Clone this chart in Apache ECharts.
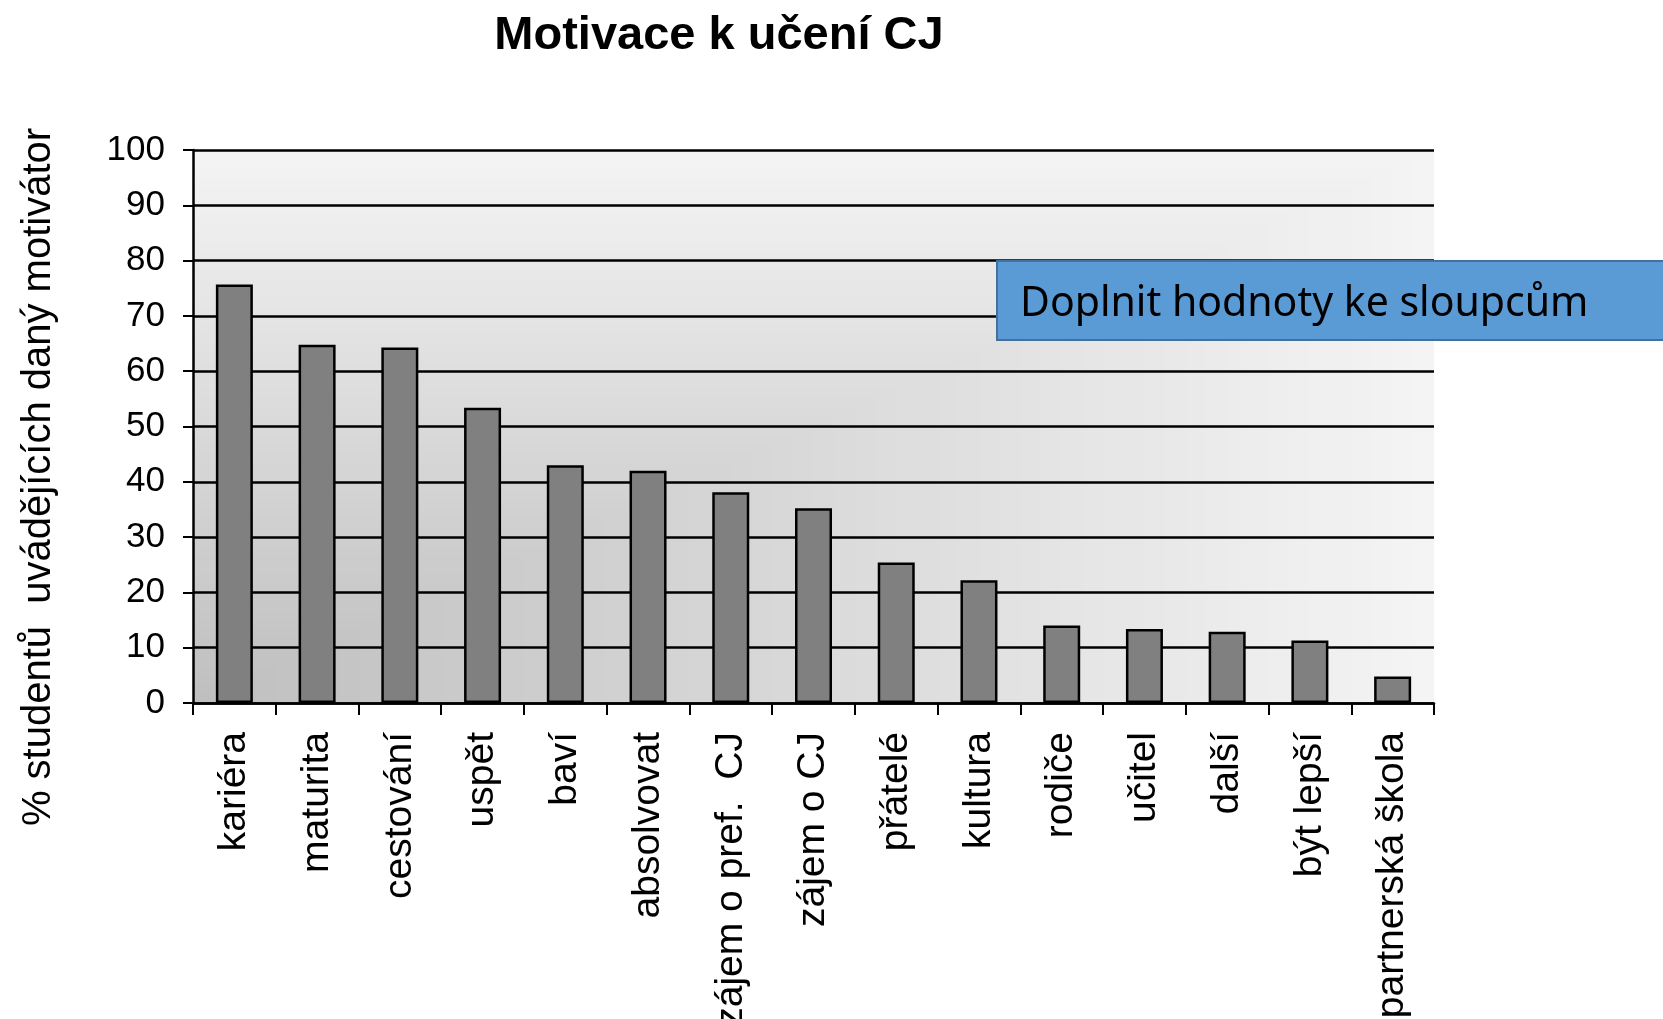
<!DOCTYPE html>
<html>
<head>
<meta charset="utf-8">
<script src="https://cdn.jsdelivr.net/npm/echarts@6/dist/echarts.min.js"></script>
<style>
html, body { margin: 0; padding: 0; background: #fff; }
#main { width: 1663px; height: 1019px; }
</style>
</head>
<body>
<div id="main"></div>
<script>
// kategorie a hodnoty (% studentů)
const categories = ['kariéra', 'maturita', 'cestování', 'uspět', 'baví', 'absolvovat',
  'zájem o pref.  CJ', 'zájem o CJ', 'přátelé', 'kultura', 'rodiče', 'učitel', 'další',
  'být lepší', 'partnerská škola'];
const values = [75.7, 64.8, 64.3, 53.4, 43.0, 42.0, 38.1, 35.2, 25.4, 22.2, 14.0, 13.4, 12.9, 11.3, 4.8];
const yMin = 0, yMax = 100, yStep = 10;

const titleText = 'Motivace k učení CJ';
const yName = '% studentů  uvádějících daný motivátor';
const noteText = 'Doplnit hodnoty ke sloupcům';

// plocha grafu
const G = { left: 193, top: 150, right: 1434, bottom: 703 };
const W = G.right - G.left, H = G.bottom - G.top;
const FONT = '"Liberation Sans", Arial, sans-serif';

// pozadí - gradient od levého dolního rohu
const bg = [];
const steps = 60;
for (let i = 0; i < steps; i++) {
  const f = 1 - i / steps;
  const c = Math.round(190 + (244 - 190) * f);
  bg.push({
    type: 'rect', silent: true, z: -10, z2: i,
    shape: { x: G.left, y: G.bottom - H * f, width: W * f, height: H * f },
    style: { fill: `rgb(${c},${c},${c})` }
  });
}

const myChart = echarts.init(document.getElementById('main'));
myChart.setOption({
  backgroundColor: '#fff',
  animation: false,
  title: {
    text: titleText,
    left: 714,
    top: 31,
    textAlign: 'center',
    textVerticalAlign: 'middle',
    textStyle: { fontFamily: FONT, fontSize: 47, fontWeight: 'bold', color: '#000' }
  },
  grid: {
    left: G.left, top: G.top, right: 1663 - G.right, bottom: 1019 - G.bottom,
    containLabel: false,
    outerBoundsMode: 'none'
  },
  xAxis: {
    type: 'category',
    data: categories,
    axisLine: { lineStyle: { color: '#000', width: 2.5 } },
    axisTick: { show: true, interval: 0, length: 12, lineStyle: { color: '#000', width: 2 } },
    axisLabel: { interval: 0, rotate: 90, margin: 29, fontFamily: FONT, fontSize: 39, color: '#000' }
  },
  yAxis: {
    type: 'value',
    min: yMin, max: yMax, interval: yStep,
    axisLine: { show: true, lineStyle: { color: '#000', width: 2.5 } },
    axisTick: { show: true, length: 10, lineStyle: { color: '#000', width: 2 } },
    axisLabel: { margin: 28, fontFamily: FONT, fontSize: 35, color: '#000' },
    splitLine: { lineStyle: { color: '#000', width: 2.5 } }
  },
  series: [{
    type: 'bar',
    data: values,
    barWidth: 37,
    itemStyle: { color: '#808080', borderColor: '#000', borderWidth: 2.5 }
  }],
  graphic: bg.concat([
    {
      type: 'text', silent: true, z: 50,
      x: 39, y: 477, rotation: Math.PI / 2,
      style: { text: yName, align: 'center', verticalAlign: 'middle', font: '40px ' + FONT, fill: '#000' }
    },
    {
      type: 'rect', silent: true, z: 100,
      shape: { x: 997, y: 261, width: 700, height: 79 },
      style: { fill: '#5B9BD5', stroke: '#41719C', lineWidth: 2 }
    },
    {
      type: 'text', silent: true, z: 101,
      x: 1020, y: 304,
      style: { text: noteText, align: 'left', verticalAlign: 'middle', font: '41px "Noto Sans", sans-serif', fill: '#000' }
    }
  ])
});
</script>
</body>
</html>
